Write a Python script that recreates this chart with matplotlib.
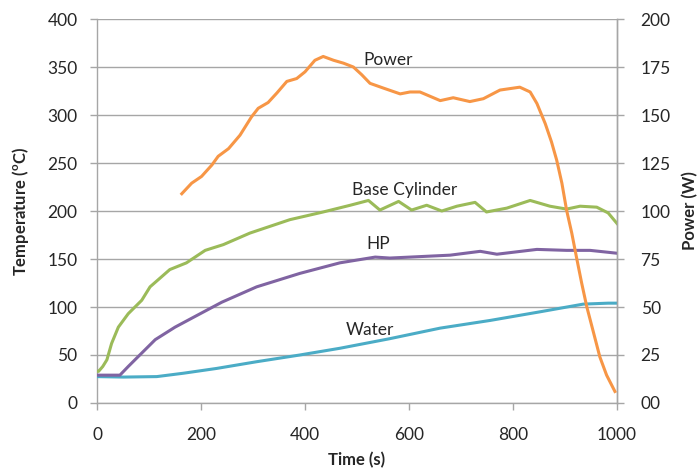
import matplotlib
matplotlib.use("Agg")
import matplotlib.pyplot as plt

plt.rcParams['font.family'] = ['Lato', 'DejaVu Sans']
plt.rcParams['mathtext.fontset'] = 'custom'
plt.rcParams['mathtext.rm'] = 'Lato'
plt.rcParams['mathtext.bf'] = 'Lato:bold'

# Temperature series (°C)
base_t = [0, 3, 11, 19, 28, 41, 60, 86, 102, 140, 172, 208, 243, 294, 371, 435, 487, 522, 544,
          580, 605, 634, 663, 692, 727, 749, 788, 833, 871, 903, 929, 961, 983, 1000]
base_v = [33, 33, 38, 45, 62, 79, 93, 107, 121, 139, 146, 159, 165, 177, 191, 199, 206, 211, 201,
          210, 201, 206, 200, 205, 209, 199, 203, 211, 205, 202, 205, 204, 198, 187]

hp_t = [0, 44, 60, 86, 112, 150, 188, 240, 307, 390, 467, 535, 563, 602, 679, 737, 769, 846,
        903, 948, 983, 1000]
hp_v = [29, 29, 38, 52, 66, 79, 90, 105, 121, 135, 146, 152, 151, 152, 154, 158, 155, 160,
        159, 159, 157, 156]

water_t = [0, 51, 115, 166, 230, 307, 390, 467, 563, 660, 756, 852, 935, 983, 1000]
water_v = [27.5, 27, 27.5, 31, 36, 43, 50, 57, 67, 78, 86, 95, 103, 104, 104]

# Power series (W)
power_t = [163, 182, 201, 221, 233, 253, 275, 297, 310, 329, 346, 365, 384, 400, 419, 435, 455,
           474, 493, 509, 525, 551, 583, 602, 621, 660, 685, 717, 743, 775, 813, 833, 846, 862,
           874, 884, 894, 903, 913, 922, 932, 942, 955, 967, 980, 996]
power_v = [109, 114.5, 118, 124, 128.5, 132.5, 139.5, 149, 153.5, 156.5, 161.5, 167.5, 169,
           172.5, 178.5, 180.5, 178.5, 177, 175, 171, 166.5, 164, 161, 162, 162, 157.5, 159,
           157, 158.5, 163, 164.5, 162, 156, 145.5, 136, 126.5, 114.5, 100.5, 88.5, 76, 62.5,
           50, 36.5, 24, 14.5, 6]

left_ticks = [0, 50, 100, 150, 200, 250, 300, 350, 400]
right_ticks = [0, 25, 50, 75, 100, 125, 150, 175, 200]
right_labels = ['00', '25', '50', '75', '100', '125', '150', '175', '200']
x_ticks = [0, 200, 400, 600, 800, 1000]

c_orange = '#F79646'
c_green = '#9BBB59'
c_purple = '#8064A2'
c_cyan = '#4BACC6'
grid_c = '#A6A6A6'
txt_c = '#262626'

fig = plt.figure(figsize=(6.99, 4.72), dpi=100)
ax = fig.add_axes([0.1388, 0.1462, 0.7439, 0.8135])
ax2 = ax.twinx()

lw = 2.2
ax.plot(water_t, water_v, color=c_cyan, lw=lw, zorder=3, solid_joinstyle='round')
ax.plot(hp_t, hp_v, color=c_purple, lw=lw, zorder=3, solid_joinstyle='round')
ax.plot(base_t, base_v, color=c_green, lw=lw, zorder=3, solid_joinstyle='round')
ax2.plot(power_t, power_v, color=c_orange, lw=lw, zorder=3, solid_joinstyle='round')

ax.set_xlim(0, 1000)
ax.set_ylim(0, 400)
ax2.set_ylim(0, 200)
ax.set_xticks(x_ticks)
ax.set_yticks(left_ticks)
ax2.set_yticks(right_ticks)
ax2.set_yticklabels(right_labels)

ax.yaxis.grid(True, color=grid_c, lw=1.0)
ax.set_axisbelow(True)

for a in (ax, ax2):
    a.spines['top'].set_visible(False)
    for s in ('left', 'bottom', 'right'):
        a.spines[s].set_color(grid_c)
        a.spines[s].set_linewidth(1.0)
    a.tick_params(colors=grid_c, labelcolor=txt_c, labelsize=12.5, length=5, width=1.0)
ax.tick_params(axis='x', pad=12)
ax.tick_params(axis='y', pad=9)
ax2.tick_params(axis='y', pad=12)
ax2.spines['left'].set_visible(False)
ax2.spines['bottom'].set_visible(False)

ax.set_xlabel('Time (s)', fontsize=12, fontweight='bold', color=txt_c, labelpad=7)
ax.set_ylabel('Temperature ($\\mathbf{^{o}}$C)', fontsize=12, fontweight='bold', color=txt_c, labelpad=12)
ax2.set_ylabel('Power (W)', fontsize=12, fontweight='bold', color=txt_c, labelpad=8)

lbl = dict(fontsize=12.5, color=txt_c, ha='center', va='center', zorder=5)
ax.text(560, 357, 'Power', **lbl)
ax.text(592, 222, 'Base Cylinder', **lbl)
ax.text(540, 166, 'HP', **lbl)
ax.text(525, 76, 'Water', **lbl)

fig.savefig('out.png', dpi=100)
